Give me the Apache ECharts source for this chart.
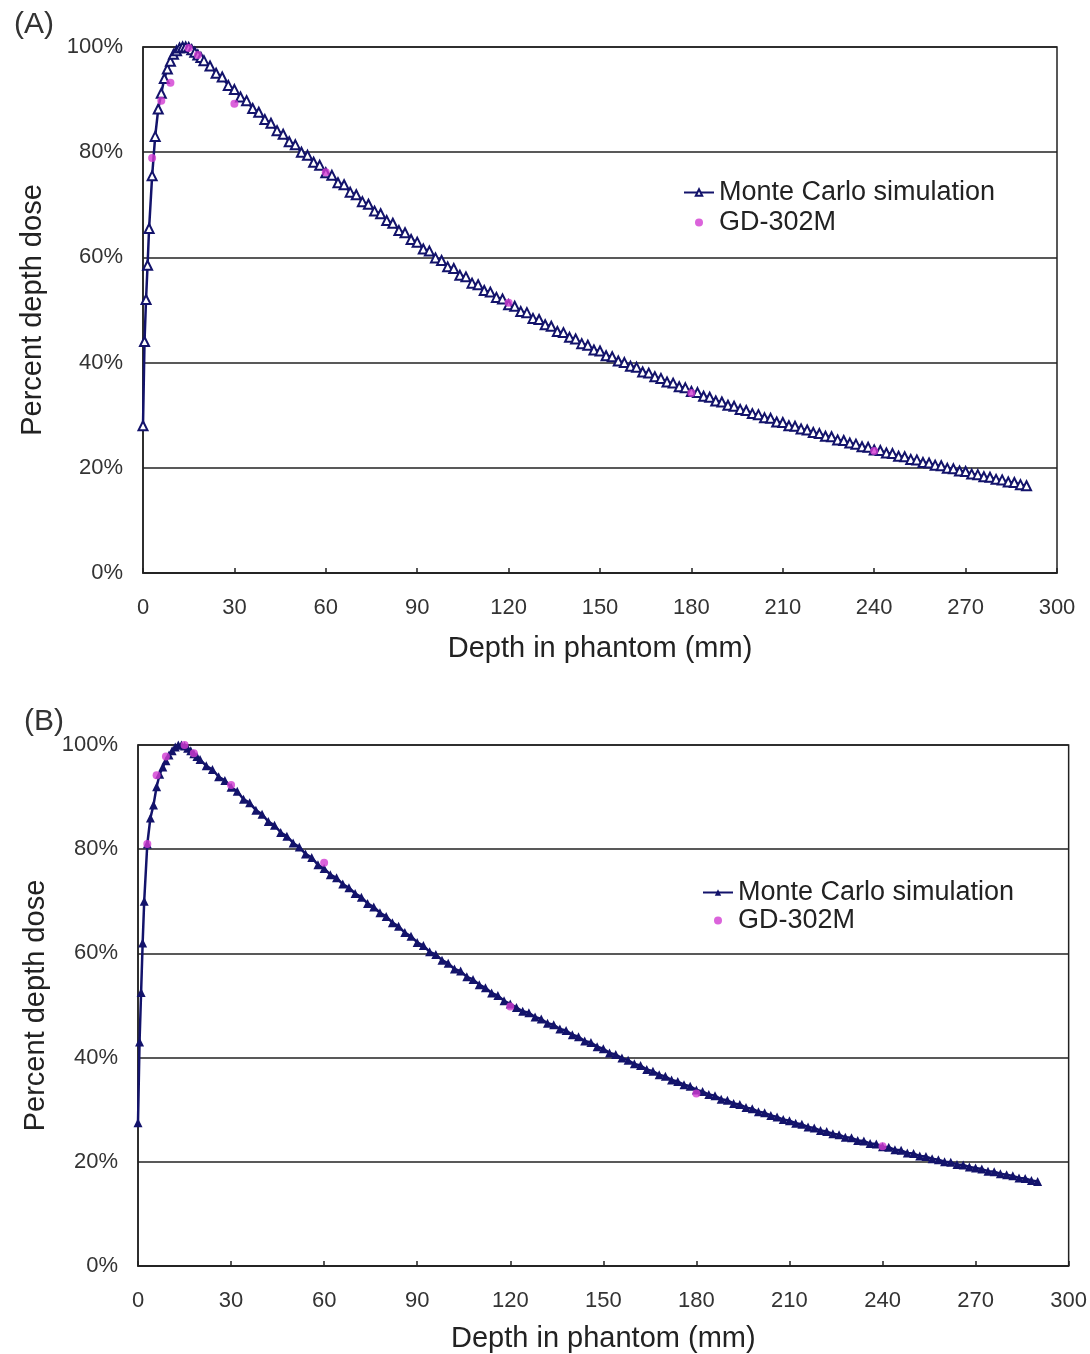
<!DOCTYPE html>
<html>
<head>
<meta charset="utf-8">
<script src="https://cdn.jsdelivr.net/npm/echarts@6/dist/echarts.min.js"></script>
<style>
  html, body { margin: 0; padding: 0; background: #fff; }
  #chart { width: 1090px; height: 1354px; }
</style>
</head>
<body>
<div id="chart"></div>
<script>
// depth (mm) of the Monte Carlo points, same for both panels
const depth = [
  0, 0.5, 1, 1.5, 2, 3, 4, 5, 6, 7, 8, 9, 10, 11, 12, 13, 14, 15, 16, 17, 18, 19, 20,
  22, 24, 26, 28, 30, 32, 34, 36, 38, 40,
  42, 44, 46, 48, 50, 52, 54, 56, 58, 60,
  62, 64, 66, 68, 70, 72, 74, 76, 78, 80,
  82, 84, 86, 88, 90, 92, 94, 96, 98, 100,
  102, 104, 106, 108, 110, 112, 114, 116, 118, 120,
  122, 124, 126, 128, 130, 132, 134, 136, 138, 140,
  142, 144, 146, 148, 150, 152, 154, 156, 158, 160,
  162, 164, 166, 168, 170, 172, 174, 176, 178, 180,
  182, 184, 186, 188, 190, 192, 194, 196, 198, 200,
  202, 204, 206, 208, 210, 212, 214, 216, 218, 220,
  222, 224, 226, 228, 230, 232, 234, 236, 238, 240,
  242, 244, 246, 248, 250, 252, 254, 256, 258, 260,
  262, 264, 266, 268, 270, 272, 274, 276, 278, 280,
  282, 284, 286, 288, 290
];

const mcA = [
  28, 44, 52, 58.5, 65.5, 75.5, 83, 88.2, 91.2, 94, 95.8, 97.3, 98.6, 99.3, 99.8, 100, 100, 99.9, 99.5, 99.0, 98.5, 98.0, 97.4,
  96.4, 95.0, 94.3, 92.7, 91.9, 90.5, 89.8, 88.3, 87.6, 86.2,
  85.5, 84.1, 83.4, 82.0, 81.4, 80.0, 79.4, 78.1, 77.5, 76.1,
  75.6, 74.2, 73.8, 72.4, 71.9, 70.6, 70.1, 68.8, 68.3, 67.0,
  66.5, 65.1, 64.7, 63.4, 62.9, 61.6, 61.2, 59.9, 59.4, 58.2,
  57.9, 56.6, 56.3, 55.1, 54.8, 53.7, 53.4, 52.4, 52.1, 51.0,
  50.7, 49.7, 49.5, 48.4, 48.2, 47.2, 46.9, 45.9, 45.7, 44.8,
  44.5, 43.6, 43.3, 42.4, 42.2, 41.3, 41.1, 40.3, 40.0, 39.3,
  39.1, 38.2, 38.0, 37.3, 37.0, 36.3, 36.1, 35.4, 35.2, 34.5,
  34.3, 33.6, 33.4, 32.7, 32.5, 31.9, 31.7, 31.1, 30.9, 30.3,
  30.1, 29.5, 29.4, 28.7, 28.6, 28.0, 27.9, 27.4, 27.2, 26.7,
  26.5, 26.0, 25.9, 25.3, 25.2, 24.7, 24.5, 24.0, 23.9, 23.4,
  23.3, 22.8, 22.7, 22.2, 22.1, 21.6, 21.5, 21.0, 20.9, 20.5,
  20.4, 19.9, 19.8, 19.4, 19.3, 18.8, 18.7, 18.3, 18.2, 17.8,
  17.7, 17.3, 17.2, 16.8, 16.6
];

const mcB = [
  27.5, 43, 52.5, 62, 70, 81, 86, 88.5, 92, 94.4, 95.8, 97, 98.1, 98.9, 99.6, 100, 100, 99.8, 99.4, 98.9, 98.3, 97.8, 97.2,
  96.0, 95.3, 93.9, 93.2, 91.9, 91.1, 89.6, 88.9, 87.5, 86.7,
  85.3, 84.6, 83.2, 82.5, 81.2, 80.4, 79.1, 78.4, 77.0, 76.3,
  75.1, 74.5, 73.3, 72.6, 71.5, 70.8, 69.6, 68.9, 67.8, 67.1,
  65.9, 65.2, 64.0, 63.3, 62.1, 61.5, 60.3, 59.8, 58.7, 58.1,
  57.0, 56.6, 55.5, 55.0, 54.0, 53.4, 52.4, 51.9, 50.9, 50.3,
  49.6, 48.9, 48.6, 47.8, 47.4, 46.6, 46.3, 45.5, 45.2, 44.4,
  44.0, 43.2, 42.9, 42.1, 41.7, 40.9, 40.6, 39.9, 39.5, 38.8,
  38.5, 37.7, 37.4, 36.7, 36.4, 35.7, 35.4, 34.8, 34.5, 33.8,
  33.5, 32.9, 32.7, 32.0, 31.8, 31.2, 31.0, 30.4, 30.2, 29.6,
  29.4, 28.9, 28.6, 28.1, 27.9, 27.4, 27.2, 26.7, 26.5, 26.0,
  25.8, 25.4, 25.2, 24.7, 24.6, 24.1, 24.0, 23.5, 23.4, 22.9,
  22.8, 22.3, 22.2, 21.7, 21.6, 21.1, 21.0, 20.6, 20.4, 20.0,
  19.9, 19.5, 19.4, 19.0, 18.8, 18.6, 18.2, 18.1, 17.7, 17.5,
  17.3, 16.9, 16.8, 16.4, 16.2
];

// GD-302M glass dosimeter readings
const gdDepth = [3, 6, 9, 15, 18, 30, 60, 120, 180, 240];
const gdA = [78.9, 89.8, 93.2, 99.8, 98.5, 89.2, 76.2, 51.4, 34.2, 23.2];
const gdB = [81.0, 94.2, 97.8, 100, 98.4, 92.3, 77.4, 49.8, 33.1, 23.0];

const xTicks = [0, 30, 60, 90, 120, 150, 180, 210, 240, 270, 300];
const yTicks = [0, 20, 40, 60, 80, 100];

const FONT = 'Liberation Sans';
const NAVY = '#13136b';
const MAGENTA = '#d23cd2';
const AXIS = '#222';

function xAxisFor(gridIndex, nameGap) {
  return {
    gridIndex: gridIndex,
    type: 'value',
    min: xTicks[0],
    max: xTicks[xTicks.length - 1],
    interval: xTicks[1] - xTicks[0],
    name: 'Depth in phantom (mm)',
    nameLocation: 'middle',
    nameGap: nameGap,
    nameTextStyle: { fontFamily: FONT, fontSize: 29, color: '#222' },
    axisLine: { show: true, lineStyle: { color: AXIS, width: 1.5 } },
    axisTick: { show: true, inside: true, length: 5, lineStyle: { color: AXIS, width: 1.5 } },
    axisLabel: { fontFamily: FONT, fontSize: 22, color: '#333', margin: 24 },
    splitLine: { show: false }
  };
}

function yAxisFor(gridIndex, nameGap) {
  return {
    gridIndex: gridIndex,
    type: 'value',
    min: yTicks[0],
    max: yTicks[yTicks.length - 1],
    interval: yTicks[1] - yTicks[0],
    name: 'Percent depth dose',
    nameLocation: 'middle',
    nameGap: nameGap,
    nameTextStyle: { fontFamily: FONT, fontSize: 29, color: '#222' },
    axisLine: { show: true, lineStyle: { color: AXIS, width: 1.5 } },
    axisTick: { show: false },
    axisLabel: { fontFamily: FONT, fontSize: 22, color: '#333', margin: 20, formatter: '{value}%' },
    splitLine: { show: true, lineStyle: { color: AXIS, width: 1.5 } }
  };
}

const chart = echarts.init(document.getElementById('chart'), null, { renderer: 'canvas' });

chart.setOption({
  animation: false,
  backgroundColor: '#fff',
  title: [
    { text: '(A)', left: 9, top: 5, textStyle: { fontFamily: FONT, fontSize: 30, fontWeight: 'normal', color: '#333' } },
    { text: '(B)', left: 19, top: 702, textStyle: { fontFamily: FONT, fontSize: 30, fontWeight: 'normal', color: '#333' } }
  ],
  grid: [
    { left: 143, top: 47, width: 914, height: 526, show: true, borderColor: AXIS, borderWidth: 1.5 },
    { left: 138, top: 745, width: 933, height: 521, show: true, borderColor: AXIS, borderWidth: 1.5 }
  ],
  legend: [
    {
      orient: 'vertical', left: 678, top: 174, itemGap: 3, itemWidth: 30, itemHeight: 8,
      textStyle: { fontFamily: FONT, fontSize: 27, color: '#222' },
      data: ['Monte Carlo simulation (A)', 'GD-302M (A)'],
      formatter: n => n.replace(/ \(.\)$/, '')
    },
    {
      orient: 'vertical', left: 697, top: 874, itemGap: 1, itemWidth: 30, itemHeight: 8,
      textStyle: { fontFamily: FONT, fontSize: 27, color: '#222' },
      data: ['Monte Carlo simulation (B)', 'GD-302M (B)'],
      formatter: n => n.replace(/ \(.\)$/, '')
    }
  ],
  xAxis: [xAxisFor(0, 61), xAxisFor(1, 58)],
  yAxis: [yAxisFor(0, 96), yAxisFor(1, 84)],
  series: [
    {
      name: 'Monte Carlo simulation (A)',
      type: 'line',
      xAxisIndex: 0, yAxisIndex: 0,
      data: depth.map((d, i) => [d, mcA[i]]),
      symbol: 'emptyTriangle',
      symbolSize: 9,
      showAllSymbol: true,
      lineStyle: { color: NAVY, width: 2.5 },
      itemStyle: { color: NAVY, borderColor: NAVY, borderWidth: 1.8 },
      z: 2
    },
    {
      name: 'GD-302M (A)',
      type: 'scatter',
      xAxisIndex: 0, yAxisIndex: 0,
      data: gdDepth.map((d, i) => [d, gdA[i]]),
      symbol: 'circle',
      symbolSize: 8,
      itemStyle: { color: MAGENTA },
      z: 3
    },
    {
      name: 'Monte Carlo simulation (B)',
      type: 'line',
      xAxisIndex: 1, yAxisIndex: 1,
      data: depth.map((d, i) => [d, mcB[i]]),
      symbol: 'triangle',
      symbolSize: 9,
      showAllSymbol: true,
      lineStyle: { color: NAVY, width: 2.5 },
      itemStyle: { color: NAVY },
      z: 2
    },
    {
      name: 'GD-302M (B)',
      type: 'scatter',
      xAxisIndex: 1, yAxisIndex: 1,
      data: gdDepth.map((d, i) => [d, gdB[i]]),
      symbol: 'circle',
      symbolSize: 8,
      itemStyle: { color: MAGENTA },
      z: 3
    }
  ]
});

window.addEventListener('resize', function () {
  chart.resize();
});
</script>
</body>
</html>
